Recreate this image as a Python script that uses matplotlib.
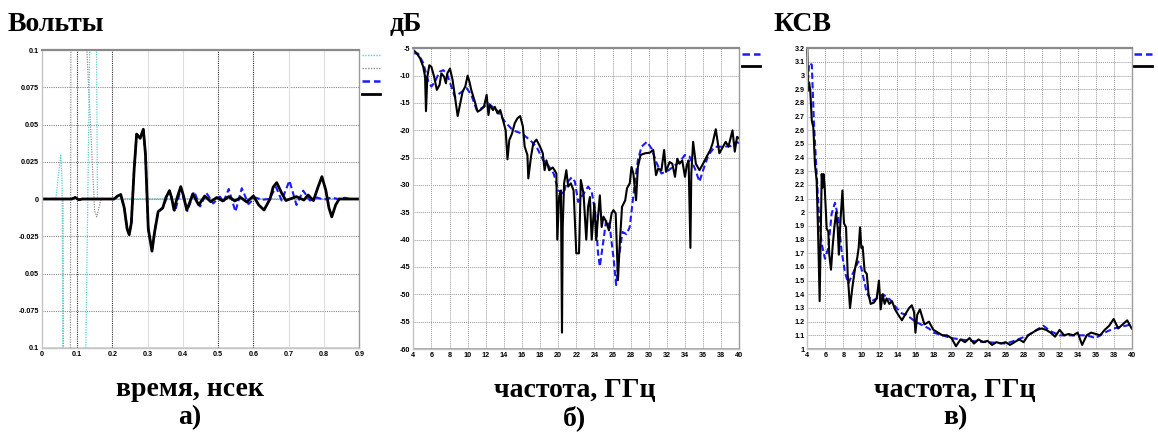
import matplotlib
matplotlib.use("Agg")
import matplotlib.pyplot as plt
from matplotlib.lines import Line2D

# ---------------- panel a: time-domain signals ----------------
a_xticks = [0, 0.1, 0.2, 0.3, 0.4, 0.5, 0.6, 0.7, 0.8, 0.9]
a_xticklabels = ["0", "0.1", "0.2", "0.3", "0.4", "0.5", "0.6", "0.7", "0.8", "0.9"]
a_yticks = [-0.1, -0.075, -0.05, -0.025, 0, 0.025, 0.05, 0.075, 0.1]
a_yticklabels = ["0.1", "-0.075", "0.05", "-0.025", "0", "0.025", "0.05", "0.075", "0.1"]

# incident pulse (dotted cyan)
a_inc_t = [0, 0.040, 0.054, 0.058, 0.064, 0.118, 0.124, 0.136, 0.144, 0.150, 0.158, 0.9]
a_inc_v = [0, 0, 0.030, 0.010, -0.40, -0.40, -0.12, 0.10, 0.40, 0.30, 0.0, 0]

# second incident trace (dotted grey)
a_inc2_t = [0, 0.060, 0.064, 0.080, 0.084, 0.124, 0.128, 0.150, 0.156, 0.162, 0.168, 0.9]
a_inc2_v = [0, 0, -0.30, -0.30, 0.30, 0.30, 0.10, -0.008, -0.012, -0.006, 0, 0]

# measured response (solid black)
a_meas_t = [0, 0.085, 0.095, 0.105, 0.115, 0.205, 0.215, 0.224, 0.234, 0.242, 0.248, 0.254,
            0.262, 0.269, 0.279, 0.288, 0.294, 0.302, 0.3125, 0.320, 0.33, 0.343, 0.352, 0.362,
            0.368, 0.375, 0.384, 0.394, 0.402, 0.411, 0.420, 0.428, 0.445, 0.462, 0.479, 0.496,
            0.513, 0.53, 0.547, 0.564, 0.581, 0.6, 0.615, 0.63, 0.647, 0.656, 0.666, 0.68,
            0.692, 0.722, 0.743, 0.755, 0.77, 0.783, 0.794, 0.805, 0.814, 0.822, 0.833, 0.843, 0.9]
a_meas_v = [0, 0, 0.001, -0.0005, 0, 0, 0.002, 0.003, -0.006, -0.020, -0.024, -0.016,
            0.020, 0.0436, 0.0407, 0.0468, 0.030, -0.020, -0.035, -0.022, -0.0085, -0.006, 0.001,
            0.0056, 0.001, -0.0074, 0.001, 0.0083, 0.002, -0.0074, -0.002, 0.0034, -0.004, 0.002,
            -0.0018, 0.001, -0.0013, 0.0016, -0.0013, 0.001, -0.002, 0.002, -0.004, -0.0074, 0.0,
            0.008, 0.011, 0.004, -0.001, 0.0016, -0.0007, 0.0027, -0.0011, 0.008, 0.015, 0.006,
            -0.006, -0.012, -0.004, 0, 0]

# simulated response (dashed blue)
a_sim_t = [0, 0.085, 0.095, 0.105, 0.115, 0.205, 0.215, 0.224, 0.234, 0.242, 0.248, 0.254,
           0.262, 0.269, 0.279, 0.288, 0.294, 0.302, 0.3125, 0.320, 0.33, 0.343, 0.362,
           0.378, 0.394, 0.413, 0.432, 0.449, 0.467, 0.486, 0.505, 0.515, 0.53, 0.549,
           0.567, 0.586, 0.605, 0.625, 0.645, 0.664, 0.68, 0.702, 0.722, 0.741, 0.76,
           0.78, 0.80, 0.82, 0.84, 0.86, 0.873]
a_sim_v = [0, 0, 0.001, -0.0005, 0, 0, 0.002, 0.003, -0.006, -0.020, -0.024, -0.016,
           0.020, 0.0436, 0.0407, 0.0468, 0.030, -0.020, -0.035, -0.022, -0.0085, -0.006, 0.0056,
           -0.0085, 0.007, -0.008, 0.005, -0.005, 0.004, -0.003, 0.0016, -0.002, 0.0067, -0.0085,
           0.0072, -0.0034, 0.001, -0.0005, 0, 0.008, -0.001, 0.0123, -0.004, 0.0056, -0.001,
           0.001, -0.0005, 0.001, 0, 0.0008, 0]

# ---------------- panel b: return loss, dB ----------------
f_ticks = list(range(4, 41, 2))
b_yticks = [-60, -55, -50, -45, -40, -35, -30, -25, -20, -15, -10, -5]

b_sim_f = [4.0, 4.55, 5.1, 5.66, 6.0, 6.4, 6.9, 7.3, 7.7, 8.2, 8.6, 9.15, 9.9, 10.4, 11.0,
           11.5, 12.3, 13.2, 14.1, 15.0, 16.0, 16.9, 17.6, 18.35, 18.9, 19.5, 20.0, 20.6,
           20.9, 21.5, 21.85, 22.2, 22.8, 23.3, 23.7, 24.1, 24.4, 24.6, 25.0, 25.3, 25.7,
           26.1, 26.4, 26.7, 27.1, 27.55, 27.9, 28.5, 28.8, 29.2, 29.8, 30.3, 30.9, 31.4,
           32.2, 32.9, 33.4, 34.0, 34.5, 35.1, 35.6, 36.0, 36.6, 37.3, 38.2, 39.0, 39.7, 40.0]
b_sim_db = [-5.9, -6.0, -7.7, -11.1, -12.0, -11.1, -9.3, -9.0, -9.6, -12.0, -13.9, -13.2,
            -12.3, -13.5, -16.3, -16.0, -15.1, -16.3, -18.4, -20.0, -20.6, -21.8, -23.0,
            -25.5, -26.4, -27.9, -31.0, -31.6, -29.7, -28.6, -29.4, -33.1, -31.6, -30.3,
            -31.2, -35.2, -42.5, -44.9, -40.1, -36.4, -37.7, -43.2, -48.3, -43.2, -38.6,
            -39.0, -37.7, -29.1, -25.5, -23.0, -22.1, -23.3, -26.1, -27.9, -27.3, -26.4,
            -25.8, -24.5, -24.8, -27.0, -29.4, -27.3, -24.5, -23.0, -23.0, -22.9, -22.1, -22.4]

b_meas_f = [4.0, 4.37, 4.74, 5.1, 5.3, 5.4, 5.55, 5.77, 6.0, 6.3, 6.6, 6.9, 7.1, 7.4, 7.6,
            7.75, 8.05, 8.34, 8.6, 8.9, 9.15, 9.45, 9.74, 10.0, 10.2, 10.4, 10.8, 11.1, 11.4,
            11.8, 12.1, 12.3, 12.45, 12.8, 13.0, 13.3, 13.6, 13.9, 14.2, 14.4, 14.6, 14.9,
            15.2, 15.5, 15.8, 16.1, 16.3, 16.6, 16.7, 17.0, 17.25, 17.6, 18.0, 18.3, 18.5,
            18.7, 19.0, 19.4, 19.6, 19.8, 19.9, 20.1, 20.3, 20.42, 20.5, 20.65, 20.9, 21.1,
            21.4, 21.7, 22.0, 22.3, 22.5, 22.8, 23.1, 23.3, 23.5, 23.7, 24.0, 24.2, 24.4,
            24.6, 24.8, 25.0, 25.3, 25.6, 25.9, 26.1, 26.35, 26.6, 26.8, 27.05, 27.4, 27.6,
            27.9, 28.1, 28.3, 28.6, 28.8, 29.1, 29.6, 30.1, 30.5, 30.8, 31.05, 31.4, 31.7,
            31.9, 32.3, 32.6, 32.9, 33.15, 33.4, 33.7, 34.0, 34.2, 34.4, 34.6, 34.7, 34.9,
            35.2, 35.6, 36.0, 36.4, 36.8, 37.05, 37.4, 37.8, 38.2, 38.5, 38.8, 39.25, 39.5,
            39.75, 40.0]
b_meas_db = [-5.3, -5.9, -6.8, -8.4, -10.2, -16.5, -10.2, -8.1, -8.4, -10.2, -12.6, -11.7,
             -9.6, -10.2, -11.4, -9.6, -8.7, -10.8, -13.9, -17.4, -15.4, -12.9, -12.0, -10.0,
             -11.1, -12.6, -14.8, -16.6, -16.3, -15.7, -13.5, -17.2, -15.4, -16.3, -15.7,
             -16.9, -16.3, -18.1, -20.0, -25.3, -21.8, -20.6, -18.7, -17.8, -17.4, -19.3,
             -23.0, -24.5, -28.8, -24.8, -22.4, -21.7, -23.0, -24.2, -27.3, -25.5, -27.3,
             -26.8, -27.3, -27.9, -40.0, -32.2, -31.0, -57.0, -37.7, -29.7, -27.3, -30.3,
             -29.7, -31.0, -42.5, -42.5, -29.1, -31.6, -40.0, -34.0, -32.2, -40.0, -33.4,
             -40.1, -35.8, -31.9, -37.7, -35.8, -36.7, -38.3, -35.2, -34.6, -35.2, -47.4,
             -40.7, -34.0, -32.8, -30.6, -29.7, -26.7, -27.9, -32.8, -26.7, -24.5, -24.2,
             -24.1, -23.6, -28.2, -27.0, -27.3, -23.6, -27.6, -25.8, -26.1, -28.5, -25.2,
             -26.1, -25.5, -28.5, -26.4, -25.5, -41.5, -27.9, -22.1, -26.1, -27.3, -26.1,
             -24.8, -23.6, -22.4, -19.8, -24.2, -23.0, -22.1, -23.0, -20.0, -23.9, -21.2, -21.5]

# ---------------- panel c: VSWR ----------------
c_yticks = [1.0, 1.1, 1.2, 1.3, 1.4, 1.5, 1.6, 1.7, 1.8, 1.9, 2.0, 2.1, 2.2, 2.3, 2.4,
            2.5, 2.6, 2.7, 2.8, 2.9, 3.0, 3.1, 3.2]
c_yticklabels = ["1", "1.1", "1.2", "1.3", "1.4", "1.5", "1.6", "1.7", "1.8", "1.9", "2",
                 "2.1", "2.2", "2.3", "2.4", "2.5", "2.6", "2.7", "2.8", "2.9", "3", "3.1", "3.2"]

c_sim_f = [4.0, 4.2, 4.5, 4.74, 5.04, 5.33, 5.6, 5.96, 6.33, 6.7, 7.07, 7.44, 7.8, 8.18,
           8.55, 9.1, 9.66, 10.0, 10.6, 11.14, 11.7, 12.4, 13.2, 13.9, 14.5, 15.0, 16.0,
           17.5, 18.0, 20.0, 22.0, 24.0, 26.0, 27.0, 28.5, 29.7, 30.2, 31.0, 32.0, 34.0,
           35.0, 36.0, 37.0, 38.0, 40.0]
c_sim_v = [2.89, 3.09, 3.08, 2.65, 2.28, 1.94, 1.77, 1.66, 1.74, 1.99, 2.07, 1.96, 1.72,
           1.56, 1.48, 1.56, 1.64, 1.59, 1.41, 1.35, 1.37, 1.40, 1.36, 1.30, 1.26, 1.25,
           1.20, 1.15, 1.12, 1.08, 1.06, 1.05, 1.04, 1.06, 1.10, 1.15, 1.17, 1.13, 1.10,
           1.10, 1.10, 1.08, 1.12, 1.15, 1.18]

c_meas_f = [4.0, 4.1, 4.2, 4.33, 4.5, 4.67, 4.85, 5.04, 5.22, 5.37, 5.48, 5.6, 5.7, 5.8,
            5.92, 6.15, 6.33, 6.44, 6.63, 6.8, 7.0, 7.2, 7.37, 7.5, 7.7, 7.9, 8.07, 8.3,
            8.48, 8.74, 9.0, 9.3, 9.55, 9.7, 9.85, 10.0, 10.14, 10.36, 10.6, 10.8, 11.03,
            11.4, 11.7, 11.95, 12.14, 12.36, 12.58, 12.8, 13.1, 13.4, 13.73, 14.1, 14.5,
            14.84, 15.3, 15.6, 15.85, 16.0, 16.2, 16.5, 17.0, 17.5, 18.0, 18.5, 19.0, 19.5,
            20.0, 20.5, 21.0, 21.5, 22.0, 22.5, 23.0, 23.5, 24.0, 24.5, 25.0, 25.5, 26.0,
            26.5, 27.0, 27.5, 28.0, 28.5, 29.0, 29.5, 30.0, 30.5, 31.0, 31.5, 32.0, 32.5,
            33.0, 33.5, 34.0, 34.5, 35.0, 35.5, 36.0, 36.5, 37.0, 37.5, 38.0, 38.5, 39.0,
            39.5, 40.0]
c_meas_v = [3.2, 2.89, 2.95, 2.89, 2.67, 2.62, 2.35, 2.23, 1.79, 1.35, 1.79, 2.28, 2.18,
            2.28, 2.20, 1.88, 1.86, 1.69, 1.58, 1.74, 1.89, 2.00, 1.89, 1.69, 1.96, 2.16,
            1.92, 1.89, 1.55, 1.30, 1.45, 1.59, 1.67, 1.74, 1.89, 1.74, 1.75, 1.57, 1.55,
            1.40, 1.33, 1.34, 1.37, 1.50, 1.29, 1.40, 1.33, 1.37, 1.33, 1.35, 1.29, 1.25,
            1.21, 1.25, 1.30, 1.32, 1.27, 1.12, 1.25, 1.29, 1.18, 1.20, 1.14, 1.12, 1.10,
            1.10, 1.08, 1.02, 1.07, 1.05, 1.08, 1.04, 1.07, 1.05, 1.06, 1.03, 1.05, 1.04,
            1.05, 1.03, 1.05, 1.07, 1.05, 1.10, 1.12, 1.14, 1.15, 1.14, 1.12, 1.09, 1.14,
            1.10, 1.11, 1.10, 1.12, 1.03, 1.10, 1.12, 1.11, 1.10, 1.14, 1.17, 1.22, 1.15,
            1.18, 1.21, 1.15]

# ---------------- styling ----------------
BLUE = "#1a1aff"
CYAN = "#58cfd2"
GREY = "#8e8e8e"
TICK_FONT = dict(family="Liberation Sans", weight="bold", size=5.2)
BIG_FONT = dict(family="Liberation Serif", weight="bold", size=20)

fig = plt.figure(figsize=(11.58, 4.32), dpi=100)
W, H = 1158.0, 432.0


def place(x0, y0, x1, y1):
    return fig.add_axes([x0 / W, 1 - y1 / H, (x1 - x0) / W, (y1 - y0) / H])


def frame(ax):
    for side in ("left", "bottom"):
        ax.spines[side].set_color("#c4c4c4")
        ax.spines[side].set_linewidth(1.0)
    ax.spines["right"].set_color("#9a9a9a")
    ax.spines["right"].set_linewidth(1.0)
    ax.spines["top"].set_color("#8a8a8a")
    ax.spines["top"].set_linewidth(1.6)
    ax.tick_params(length=0, pad=2)
    for lab in ax.get_xticklabels() + ax.get_yticklabels():
        lab.set_fontfamily(TICK_FONT["family"])
        lab.set_fontweight(TICK_FONT["weight"])
        lab.set_fontsize(TICK_FONT["size"])
    ax.set_axisbelow(True)


def side_legend(ax, handles):
    ax.legend(handles=handles, labels=[""] * len(handles), loc="upper left",
              bbox_to_anchor=(1.005, 1.0), frameon=False, handlelength=1.6,
              handletextpad=0.0, labelspacing=0.25, fontsize=8, borderpad=0.1,
              borderaxespad=0.0)


# panel a
axa = place(41.7, 50, 359.3, 348)
axa.set_xlim(0, 0.9)
axa.set_ylim(-0.1, 0.1)
axa.set_xticks(a_xticks)
axa.set_xticklabels(a_xticklabels)
axa.set_yticks(a_yticks)
axa.set_yticklabels(a_yticklabels)
for yv in a_yticks[1:-1]:
    axa.axhline(yv, color="#8a8a8a", ls=(0, (1, 1)), lw=0.8, zorder=0)
axa.axhline(-0.1, color="#d0d0d0", lw=1.2, zorder=0)
for xv in a_xticks[1:-1]:
    if xv in (0.1, 0.2, 0.5, 0.6):
        axa.axvline(xv, color="#303030", ls=(0, (1, 1)), lw=0.8, zorder=0)
    else:
        axa.axvline(xv, color="#dedede", lw=0.8, zorder=0)
axa.plot(a_inc2_t, a_inc2_v, color=GREY, ls=(0, (1, 1)), lw=0.9)
axa.plot(a_inc_t, a_inc_v, color=CYAN, ls=(0, (1, 1)), lw=0.9)
axa.plot(a_sim_t, a_sim_v, color=BLUE, ls=(0, (3, 1.6)), lw=1.5)
axa.plot(a_meas_t, a_meas_v, color="black", lw=2.0)
frame(axa)
side_legend(axa, [Line2D([], [], color=CYAN, ls=(0, (1, 1)), lw=1),
                  Line2D([], [], color=GREY, ls=(0, (1, 1)), lw=1),
                  Line2D([], [], color=BLUE, ls=(0, (3, 1.6)), lw=1.8),
                  Line2D([], [], color="black", lw=2.0)])

# panel b
axb = place(413.3, 48.3, 739.3, 349)
axb.set_xlim(4, 40)
axb.set_ylim(-60, -5)
axb.set_xticks(f_ticks)
axb.set_xticklabels([str(v) for v in f_ticks])
axb.set_yticks(b_yticks)
axb.set_yticklabels([str(v) for v in b_yticks])
axb.grid(True, color="#9a9a9a", ls=(0, (1, 1)), lw=0.7)
axb.axhline(-60, color="#9a9a9a", lw=2.0)
axb.plot(b_sim_f, b_sim_db, color=BLUE, ls=(0, (3, 1.6)), lw=1.5)
axb.plot(b_meas_f, b_meas_db, color="black", lw=1.5)
frame(axb)
side_legend(axb, [Line2D([], [], color=BLUE, ls=(0, (3, 1.6)), lw=1.8),
                  Line2D([], [], color="black", lw=2.0)])

# panel c
axc = place(807.3, 48.3, 1131.7, 349)
axc.set_xlim(4, 40)
axc.set_ylim(1.0, 3.2)
axc.set_xticks(f_ticks)
axc.set_xticklabels([str(v) for v in f_ticks])
axc.set_yticks(c_yticks)
axc.set_yticklabels(c_yticklabels)
axc.grid(True, color="#9a9a9a", ls=(0, (1, 1)), lw=0.7)
axc.axhline(1.0, color="#9a9a9a", lw=2.0)
axc.plot(c_sim_f, c_sim_v, color=BLUE, ls=(0, (3, 1.6)), lw=1.5)
axc.plot(c_meas_f, c_meas_v, color="black", lw=1.5, clip_on=False)
frame(axc)
side_legend(axc, [Line2D([], [], color=BLUE, ls=(0, (3, 1.6)), lw=1.8),
                  Line2D([], [], color="black", lw=2.0)])

# headings and captions
fig.text(8 / W, 1 - 31 / H, "Вольты", **BIG_FONT)
fig.text(390 / W, 1 - 31 / H, "дБ", **BIG_FONT)
fig.text(773 / W, 1 - 31 / H, "КСВ", **BIG_FONT)
for xc, lab, cap in ((190, "время, нсек", "а)"),
                     (575, "частота, ГГц", "б)"),
                     (955, "частота, ГГц", "в)")):
    fig.text(xc / W, 1 - 390 / H, lab, ha="center", va="center", **BIG_FONT)
    fig.text(xc / W, 1 - 418 / H, cap, ha="center", va="center", **BIG_FONT)

fig.savefig("out.png", dpi=100)
